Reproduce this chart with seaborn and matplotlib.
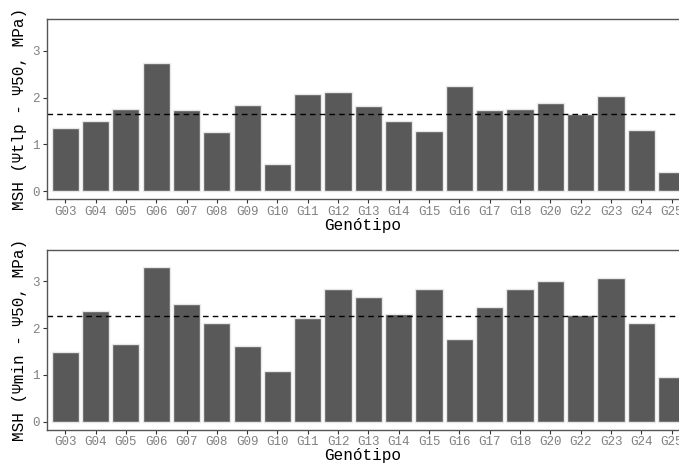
import pandas as pd
import seaborn as sns
import matplotlib.pyplot as plt

genotipos = ['G03', 'G04', 'G05', 'G06', 'G07', 'G08', 'G09', 'G10', 'G11', 'G12', 'G13',
             'G14', 'G15', 'G16', 'G17', 'G18', 'G20', 'G22', 'G23', 'G24', 'G25']
msh_tlp = [1.34, 1.49, 1.76, 2.74, 1.73, 1.26, 1.84, 0.57, 2.07, 2.11, 1.82,
           1.49, 1.28, 2.24, 1.74, 1.76, 1.89, 1.64, 2.04, 1.30, 0.41]
msh_min = [1.48, 2.36, 1.65, 3.31, 2.51, 2.10, 1.61, 1.08, 2.21, 2.84, 2.66,
           2.29, 2.84, 1.76, 2.44, 2.84, 3.00, 2.28, 3.07, 2.11, 0.96]
media_tlp = 1.64
media_min = 2.25

sns.set_theme(style='white')
plt.rcParams['font.family'] = ['Liberation Mono', 'DejaVu Sans Mono']

fig = plt.figure(figsize=(6.79, 4.63), dpi=100)
W, H = 679, 463
ax1 = fig.add_axes([47 / W, 1 - 199 / H, 1 - 47 / W, 180 / H])
ax2 = fig.add_axes([47 / W, 1 - 429.5 / H, 1 - 47 / W, 180 / H])

paineis = [(ax1, msh_tlp, media_tlp, 'MSH (Ψtlp - Ψ50, MPa)'),
           (ax2, msh_min, media_min, 'MSH (Ψmin - Ψ50, MPa)')]

for ax, valores, media, ylab in paineis:
    df = pd.DataFrame({'Genótipo': genotipos, 'MSH': valores})
    sns.barplot(x='Genótipo', y='MSH', data=df, color='#595959', saturation=1,
                width=0.9, edgecolor='#e8e8e8', linewidth=1.0, ax=ax)
    ax.axhline(media, color='black', linestyle=(0, (4, 3)), linewidth=1.0)
    # figura original cortada na direita (G25 aparece pela metade)
    ax.set_xlim(-0.6, 20.24)
    ax.set_ylim(-0.17, 3.68)
    ax.set_yticks([0, 1, 2, 3])
    ax.set_ylabel(ylab, fontsize=11.5, color='black', labelpad=4)
    ax.set_xlabel('Genótipo', fontsize=11.5, color='black', labelpad=0)
    ax.tick_params(axis='both', which='major', labelsize=9, labelcolor='#808080',
                   color='#333333', length=3, width=0.8, direction='out',
                   bottom=True, left=True, pad=2)
    for lado in ['left', 'bottom', 'top']:
        ax.spines[lado].set_color('#555555')
        ax.spines[lado].set_linewidth(1.0)
    ax.spines['right'].set_visible(False)

fig.savefig('out.png', dpi=100)
